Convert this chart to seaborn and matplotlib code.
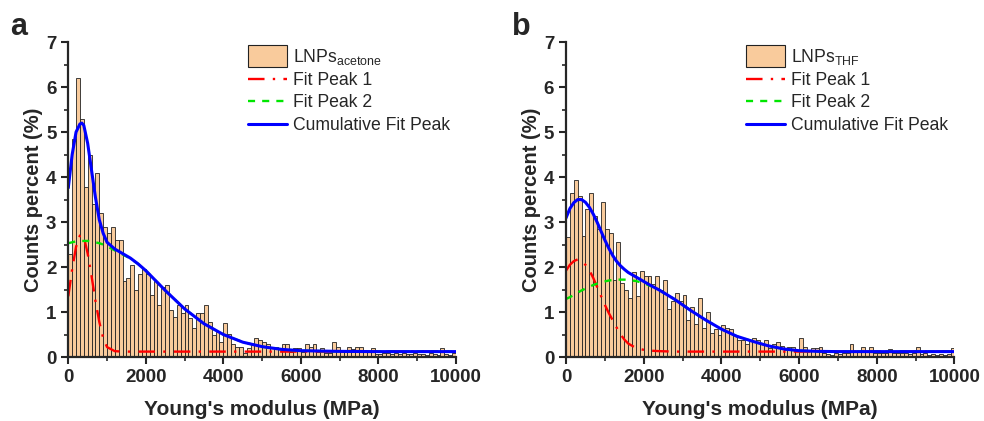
import numpy as np
import pandas as pd
import matplotlib
matplotlib.use('Agg')
import matplotlib.pyplot as plt
import matplotlib.patches as mpatches
from matplotlib.lines import Line2D
from matplotlib.legend_handler import HandlerPatch
from matplotlib.ticker import MultipleLocator
import seaborn as sns

# histogram bins (100 MPa wide, 0-10000 MPa)
bin_edges = list(range(0, 10001, 100))

# counts percent per bin, panel a (acetone)
a_counts = [
    2.3, 4.85, 6.2, 5.28, 3.77, 4.5, 3.4, 4.1, 3.2, 2.88,
    2.75, 2.88, 2.6, 2.6, 1.7, 1.75, 2.05, 1.5, 1.85, 1.95,
    1.85, 1.37, 1.7, 1.15, 1.55, 1.6, 1.05, 0.88, 1.16, 0.98,
    1.16, 0.86, 0.64, 0.97, 0.97, 1.16, 0.77, 0.49, 0.55, 0.34,
    0.76, 0.52, 0.28, 0.23, 0.23, 0.08, 0.19, 0.3, 0.43, 0.38,
    0.33, 0.28, 0.23, 0.23, 0.17, 0.28, 0.28, 0.12, 0.19, 0.19,
    0.12, 0.28, 0.23, 0.28, 0.12, 0.19, 0.1, 0.08, 0.33, 0.23,
    0.12, 0.12, 0.23, 0.17, 0.23, 0.23, 0.12, 0.12, 0.19, 0.06,
    0.06, 0.08, 0.1, 0.06, 0.08, 0.06, 0.08, 0.06, 0.06, 0.08,
    0.06, 0.06, 0.05, 0.08, 0.06, 0.05, 0.19, 0.06, 0.05, 0.1]

# counts percent per bin, panel b (THF)
b_counts = [
    2.66, 3.65, 3.93, 3.59, 2.7, 3.29, 3.65, 3.14, 2.85, 3.44,
    2.85, 2.75, 1.72, 2.55, 1.65, 1.5, 1.32, 1.9, 1.35, 1.92,
    1.8, 1.8, 1.62, 1.8, 1.5, 1.71, 1.07, 1.25, 1.42, 1.25,
    1.37, 0.82, 1.12, 0.73, 1.32, 0.64, 1.0, 0.53, 0.62, 0.48,
    0.71, 0.64, 0.62, 0.49, 0.38, 0.38, 0.3, 0.38, 0.42, 0.38,
    0.3, 0.38, 0.21, 0.3, 0.33, 0.25, 0.16, 0.23, 0.23, 0.15,
    0.43, 0.23, 0.16, 0.19, 0.19, 0.23, 0.1, 0.06, 0.05, 0.08,
    0.06, 0.1, 0.1, 0.28, 0.13, 0.13, 0.23, 0.13, 0.23, 0.1,
    0.1, 0.08, 0.1, 0.18, 0.1, 0.1, 0.08, 0.1, 0.06, 0.08,
    0.23, 0.06, 0.08, 0.05, 0.06, 0.05, 0.06, 0.05, 0.06, 0.19]

# fit curves, panel a
a_fit_x = [0, 100, 200, 300, 350, 400, 500, 600, 700, 800, 900, 1000, 1200, 1400,
           1600, 1800, 2000, 2500, 3000, 3500, 4000, 4500, 5000, 5500, 6000, 7000,
           8000, 10000]
a_peak1 = [1.35, 1.95, 2.45, 2.7, 2.72, 2.68, 2.3, 1.8, 1.25, 0.78, 0.42, 0.22, 0.13, 0.12,
           0.12, 0.12, 0.12, 0.12, 0.12, 0.12, 0.12, 0.12, 0.12, 0.12, 0.12, 0.12,
           0.12, 0.12]
a_peak2 = [2.53, 2.55, 2.57, 2.58, 2.58, 2.58, 2.58, 2.57, 2.55, 2.53, 2.5, 2.46, 2.37, 2.28,
           2.19, 2.07, 1.92, 1.48, 1.07, 0.74, 0.5, 0.33, 0.23, 0.17, 0.14, 0.125,
           0.12, 0.12]
a_cum = [3.76, 4.5, 5.0, 5.18, 5.2, 5.15, 4.75, 4.15, 3.55, 3.05, 2.75, 2.55, 2.4, 2.3,
         2.2, 2.07, 1.92, 1.48, 1.07, 0.74, 0.5, 0.33, 0.23, 0.17, 0.14, 0.125,
         0.12, 0.12]

# fit curves, panel b
b_fit_x = [0, 100, 200, 300, 400, 500, 600, 700, 800, 900, 1000, 1100, 1200, 1300, 1400,
           1500, 1600, 1800, 2000, 2200, 2400, 2800, 3200, 3600, 4000, 4400, 4800,
           5200, 5600, 6000, 6500, 7000, 8000, 10000]
b_peak1 = [1.92, 2.05, 2.13, 2.17, 2.13, 2.05, 1.93, 1.76, 1.56, 1.36, 1.16, 0.98, 0.82, 0.66,
           0.51, 0.39, 0.3, 0.2, 0.16, 0.14, 0.13, 0.12, 0.12, 0.12, 0.12, 0.12, 0.12,
           0.12, 0.12, 0.12, 0.12, 0.12, 0.12, 0.12]
b_peak2 = [1.29, 1.33, 1.38, 1.43, 1.48, 1.52, 1.56, 1.6, 1.63, 1.66, 1.68, 1.7, 1.71, 1.72,
           1.72, 1.72, 1.71, 1.69, 1.64, 1.57, 1.49, 1.28, 1.04, 0.82, 0.62, 0.46, 0.35,
           0.25, 0.18, 0.14, 0.125, 0.12, 0.12, 0.12]
b_cum = [3.09, 3.3, 3.43, 3.5, 3.5, 3.44, 3.33, 3.18, 3.0, 2.8, 2.6, 2.42, 2.26, 2.13,
         2.03, 1.95, 1.88, 1.78, 1.68, 1.58, 1.49, 1.28, 1.04, 0.82, 0.62, 0.46, 0.35,
         0.25, 0.18, 0.14, 0.125, 0.12, 0.12, 0.12]

sns.set_style('ticks')
plt.rcParams['font.family'] = ['Liberation Sans', 'DejaVu Sans']
plt.rcParams['mathtext.fontset'] = 'custom'
plt.rcParams['mathtext.rm'] = 'Liberation Sans'
plt.rcParams['axes.linewidth'] = 1.6

bar_color = '#F9CB9C'
dash_dot = (0, (7, 3.5, 1, 3.5))
short_dash = (0, (3, 3))


def tall_patch(legend, orig_handle, xdescent, ydescent, width, height, fontsize):
    return mpatches.Rectangle((-xdescent, -ydescent - 0.4 * height), width, 1.8 * height)


def draw_panel(ax, counts, fit_x, p1, p2, cum, name):
    hist_df = pd.DataFrame({'modulus': [e + 50 for e in bin_edges[:-1]], 'pct': counts})
    sns.histplot(data=hist_df, x='modulus', weights='pct', bins=bin_edges,
                 color=bar_color, edgecolor='#222222', linewidth=0.6, alpha=1, ax=ax)
    sns.lineplot(x=fit_x, y=p1, color='#FF0000', lw=1.7, linestyle=dash_dot, ax=ax)
    sns.lineplot(x=fit_x, y=p2, color='#00E600', lw=1.7, linestyle=short_dash, ax=ax)
    sns.lineplot(x=fit_x, y=cum, color='#0000FF', lw=2.2, ax=ax)

    ax.set_xlim(0, 10000)
    ax.set_ylim(0, 7)
    ax.xaxis.set_major_locator(MultipleLocator(2000))
    ax.xaxis.set_minor_locator(MultipleLocator(1000))
    ax.yaxis.set_major_locator(MultipleLocator(1))
    ax.yaxis.set_minor_locator(MultipleLocator(0.5))
    ax.tick_params(which='major', direction='out', length=5, width=1.5, labelsize=13.5)
    ax.tick_params(which='minor', direction='out', length=3, width=1.2)
    for lbl in ax.get_xticklabels() + ax.get_yticklabels():
        lbl.set_fontweight('bold')
    sns.despine(ax=ax)
    ax.set_xlabel("Young's modulus (MPa)", fontsize=15, fontweight='bold', labelpad=10)
    ax.set_ylabel('Counts percent (%)', fontsize=14.5, fontweight='bold', labelpad=2)

    handles = [
        mpatches.Patch(facecolor=bar_color, edgecolor='#222222', linewidth=0.8, label=name),
        Line2D([], [], color='#FF0000', lw=1.7, linestyle=dash_dot, label='Fit Peak 1'),
        Line2D([], [], color='#00E600', lw=1.7, linestyle=short_dash, label='Fit Peak 2'),
        Line2D([], [], color='#0000FF', lw=2.2, label='Cumulative Fit Peak'),
    ]
    ax.legend(handles=handles, loc='upper left', bbox_to_anchor=(0.463, 0.985),
              frameon=False, fontsize=12.7, borderpad=0, borderaxespad=0,
              handlelength=2.2, handletextpad=0.35, labelspacing=0.3,
              handler_map={mpatches.Patch: HandlerPatch(patch_func=tall_patch)})


fig = plt.figure(figsize=(9.84, 4.21), dpi=100)
ax_a = fig.add_axes([0.0694, 0.152, 0.394, 0.748])
ax_b = fig.add_axes([0.5752, 0.152, 0.3948, 0.748])

draw_panel(ax_a, a_counts, a_fit_x, a_peak1, a_peak2, a_cum, r'LNPs$_{\mathregular{acetone}}$')
draw_panel(ax_b, b_counts, b_fit_x, b_peak1, b_peak2, b_cum, r'LNPs$_{\mathregular{THF}}$')

fig.text(0.0102, 0.917, 'a', fontsize=22, fontweight='bold', va='baseline')
fig.text(0.520, 0.917, 'b', fontsize=22, fontweight='bold', va='baseline')

fig.savefig('out.png', dpi=100)
